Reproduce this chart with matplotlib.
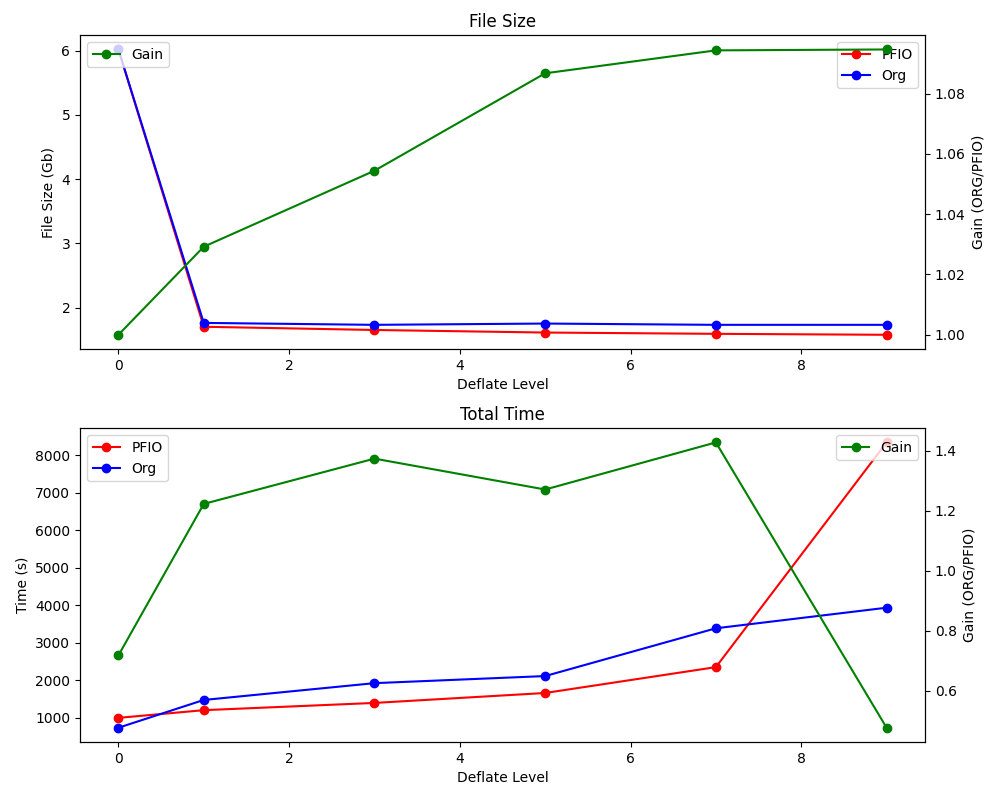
import matplotlib
matplotlib.use("Agg")
import matplotlib.pyplot as plt

levels = [0, 1, 3, 5, 7, 9]

# file size (Gb)
size_pfio = [6.02, 1.70, 1.65, 1.61, 1.59, 1.575]
size_org = [6.02, 1.76, 1.73, 1.75, 1.73, 1.73]
size_gain = [1.000, 1.0292, 1.0544, 1.0867, 1.0943, 1.0946]

# total time (s)
time_pfio = [1000, 1205, 1398, 1663, 2352, 8340]
time_org = [737, 1477, 1925, 2114, 3387, 3935]
time_gain = [0.718, 1.223, 1.374, 1.271, 1.428, 0.477]

fig, (ax1, ax3) = plt.subplots(2, 1, figsize=(10, 8), dpi=100)

ax1.plot(levels, size_pfio, "o-", color="red", label="PFIO")
ax1.plot(levels, size_org, "o-", color="blue", label="Org")
ax1.set_xlabel("Deflate Level")
ax1.set_ylabel("File Size (Gb)")
ax1.set_title("File Size")
ax1.legend(loc="upper right")
ax2 = ax1.twinx()
ax2.plot(levels, size_gain, "o-", color="green", label="Gain")
ax2.set_ylabel("Gain (ORG/PFIO)")
ax2.legend(loc="upper left")

ax3.plot(levels, time_pfio, "o-", color="red", label="PFIO")
ax3.plot(levels, time_org, "o-", color="blue", label="Org")
ax3.set_xlabel("Deflate Level")
ax3.set_ylabel("Time (s)")
ax3.set_title("Total Time")
ax3.legend(loc="upper left")
ax4 = ax3.twinx()
ax4.plot(levels, time_gain, "o-", color="green", label="Gain")
ax4.set_ylabel("Gain (ORG/PFIO)")
ax4.legend(loc="upper right")

plt.subplots_adjust(left=0.08, right=0.925, top=0.956, bottom=0.0725, hspace=0.252)
plt.savefig("out.png")
